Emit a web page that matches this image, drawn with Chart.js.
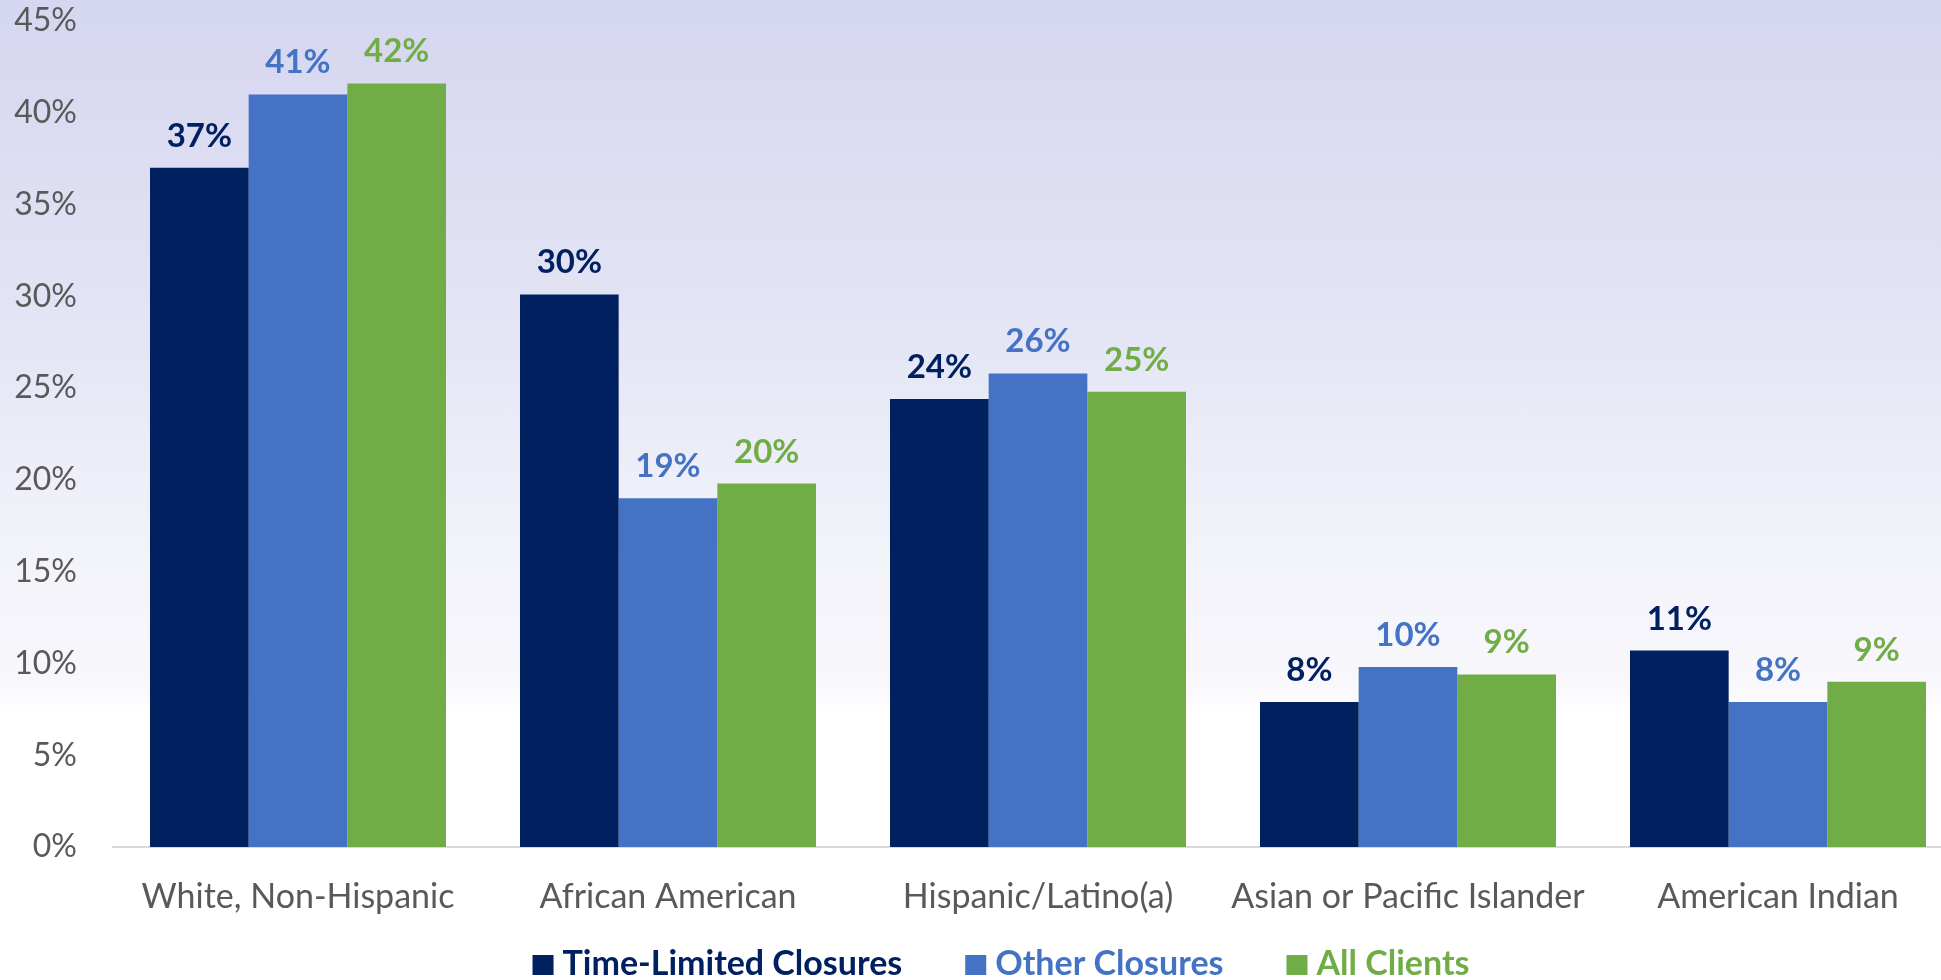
<!DOCTYPE html>
<html>
<head>
<meta charset="utf-8">
<script src="https://cdn.jsdelivr.net/npm/chart.js@4.4.1/dist/chart.umd.min.js"></script>
<style>
  html, body { margin: 0; padding: 0; background: #ffffff; overflow: hidden; }
  #wrap {
    position: relative; width: 1941px; height: 980px; overflow: hidden;
    background: linear-gradient(to bottom, #d5d6f0 0px, #dcddf2 150px, #e2e3f4 300px, #eaebf7 420px, #f3f3fa 560px, #f7f7fc 680px, #ffffff 715px, #ffffff 980px);
  }
  #c { position: absolute; left: 0; top: 0; }
</style>
</head>
<body>
<div id="wrap"><canvas id="c" width="1963" height="980"></canvas></div>
<script>
const categories = ["White, Non-Hispanic", "African American", "Hispanic/Latino(a)", "Asian or Pacific Islander", "American Indian"];
const seriesNames = ["Time-Limited Closures", "Other Closures", "All Clients"];
const timeLimited = [37.0, 30.1, 24.4, 7.9, 10.7];
const otherClosures = [41.0, 19.0, 25.8, 9.8, 7.9];
const allClients = [41.6, 19.8, 24.8, 9.4, 9.0];
const seriesColors = ["#002060", "#4472C4", "#70AD47"];
const yTicks = [0, 5, 10, 15, 20, 25, 30, 35, 40, 45];

const FONT = "Lato, 'Open Sans', sans-serif";

const valueLabels = {
  id: 'valueLabels',
  afterDatasetsDraw(chart) {
    const ctx = chart.ctx;
    ctx.save();
    ctx.font = "bold 33px " + FONT;
    ctx.textAlign = 'center';
    ctx.textBaseline = 'alphabetic';
    chart.data.datasets.forEach((ds, i) => {
      const meta = chart.getDatasetMeta(i);
      ctx.fillStyle = ds.backgroundColor;
      meta.data.forEach((bar, j) => {
        ctx.fillText(Math.round(ds.data[j]) + '%', bar.x, bar.y - 21);
      });
    });
    ctx.restore();
  }
};

const bottomLegend = {
  id: 'bottomLegend',
  afterDraw(chart) {
    const ctx = chart.ctx;
    ctx.save();
    ctx.font = "bold 34px " + FONT;
    ctx.textBaseline = 'alphabetic';
    ctx.textAlign = 'left';
    const box = 21, gap = 9, between = 63, center = 1001, baseY = 975;
    const items = chart.data.datasets.map(ds => ({ text: ds.label, color: ds.backgroundColor, w: ctx.measureText(ds.label).width }));
    const total = items.reduce((s, it) => s + box + gap + it.w, 0) + between * (items.length - 1);
    let x = center - total / 2;
    items.forEach(it => {
      ctx.fillStyle = it.color;
      ctx.fillRect(x, baseY - 20, box, 20);
      ctx.fillText(it.text, x + box + gap, baseY);
      x += box + gap + it.w + between;
    });
    ctx.restore();
  }
};

new Chart(document.getElementById('c'), {
  type: 'bar',
  data: {
    labels: categories,
    datasets: [
      { label: seriesNames[0], data: timeLimited, backgroundColor: seriesColors[0] },
      { label: seriesNames[1], data: otherClosures, backgroundColor: seriesColors[1] },
      { label: seriesNames[2], data: allClients, backgroundColor: seriesColors[2] }
    ]
  },
  options: {
    responsive: false,
    animation: false,
    layout: { padding: { top: 21, right: 0, left: 0, bottom: 0 } },
    datasets: { bar: { categoryPercentage: 0.8, barPercentage: 1.0 } },
    scales: {
      x: {
        grid: { display: false, drawTicks: false },
        border: { display: true, color: '#D9D9D9', width: 2 },
        ticks: { color: '#595959', font: { family: FONT, size: 34 }, padding: 30, maxRotation: 0, autoSkip: false },
        afterFit(scale) { scale.height = 133; scale.paddingLeft = 0; scale.paddingRight = 0; }
      },
      y: {
        min: 0, max: 45,
        grid: { display: false, drawTicks: false },
        border: { display: false },
        afterBuildTicks(scale) { scale.ticks = yTicks.map(v => ({ value: v })); },
        ticks: { color: '#595959', font: { family: FONT, size: 32 }, padding: 36, callback: v => v + '%' },
        afterFit(scale) { scale.width = 113; scale.paddingTop = 0; scale.paddingBottom = 0; }
      }
    },
    plugins: {
      legend: { display: false },
      tooltip: { enabled: false }
    }
  },
  plugins: [valueLabels, bottomLegend]
});
</script>
</body>
</html>
